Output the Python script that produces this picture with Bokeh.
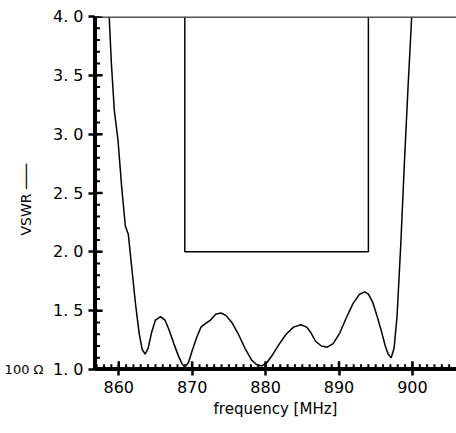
from bokeh.plotting import figure
from bokeh.models import Range1d, FixedTicker, LinearAxis
from bokeh.embed import file_html
from bokeh.resources import INLINE

# frequency [MHz] vs VSWR
freq = [858.7, 859.0, 859.4, 859.9, 860.4, 860.9, 861.3, 861.8, 862.3, 862.8, 863.2, 863.6,
        864.0, 864.5, 865.0, 865.7, 866.3, 866.9, 867.5, 868.1, 868.6, 869.0, 869.5,
        870.0, 870.6, 871.2, 871.8, 872.5, 873.2, 873.9, 874.6, 875.4, 876.3, 877.2,
        878.1, 878.8, 879.5, 880.2, 881.0, 881.9, 882.8, 883.8, 884.8, 885.6, 886.2,
        886.8, 887.6, 888.4, 889.2, 890.1, 891.0, 891.9, 892.8, 893.5, 894.0, 894.6,
        895.2, 895.8, 896.3, 896.7, 897.1, 897.5, 897.9, 898.4, 898.9, 899.4, 899.9]
vswr = [4.00, 3.60, 3.20, 2.95, 2.55, 2.22, 2.15, 1.85, 1.55, 1.30, 1.17, 1.13,
        1.18, 1.32, 1.42, 1.45, 1.42, 1.33, 1.22, 1.12, 1.05, 1.02, 1.06,
        1.16, 1.27, 1.36, 1.39, 1.42, 1.47, 1.48, 1.46, 1.40, 1.30, 1.18,
        1.08, 1.04, 1.03, 1.06, 1.13, 1.22, 1.30, 1.36, 1.38, 1.36, 1.31,
        1.24, 1.20, 1.19, 1.22, 1.31, 1.44, 1.56, 1.64, 1.66, 1.64, 1.57,
        1.45, 1.32, 1.20, 1.13, 1.10, 1.18, 1.45, 2.05, 2.75, 3.40, 4.00]

box_x = [869, 869, 894, 894]
box_y = [4.0, 2.0, 2.0, 4.0]

x_ticks = [860, 870, 880, 890, 900]
x_minor = list(range(857, 906))
y_ticks = [1.0, 1.5, 2.0, 2.5, 3.0, 3.5, 4.0]
y_minor = [round(1.0 + 0.1 * i, 1) for i in range(31)]
y_labels = {1: "1. 0", 1.5: "1. 5", 2: "2. 0", 2.5: "2. 5", 3: "3. 0", 3.5: "3. 5", 4: "4. 0"}

x0, x1 = 856.7, 906.0
y0, y1 = 1.0, 4.0

p = figure(width=456, height=420, output_backend="svg", toolbar_location=None,
           x_range=Range1d(x0, x1), y_range=Range1d(y0, y1),
           min_border_left=94, min_border_top=16, min_border_bottom=42, min_border_right=0)
p.outline_line_color = None
p.grid.grid_line_color = None

p.line(freq, vswr, color="black", line_width=1.5)
p.line(box_x, box_y, color="black", line_width=1.5)
p.line([x0, x1], [y1, y1], color="#555555", line_width=3)

# axis lines and inward ticks drawn as glyphs
p.line([x0, x0], [y0, y1], color="black", line_width=5)
p.line([x0, x1], [y0, y0], color="black", line_width=5)
p.segment(x0=x_minor, y0=[y0] * len(x_minor), x1=x_minor, y1=[y0 + 0.045] * len(x_minor),
          color="black", line_width=2)
p.segment(x0=x_ticks, y0=[y0] * len(x_ticks), x1=x_ticks, y1=[y0 + 0.07] * len(x_ticks),
          color="black", line_width=2.5)
p.segment(x0=[x0] * len(y_minor), y0=y_minor, x1=[x0 + 0.75] * len(y_minor), y1=y_minor,
          color="black", line_width=2)
p.segment(x0=[x0] * len(y_ticks), y0=y_ticks, x1=[x0 + 1.1] * len(y_ticks), y1=y_ticks,
          color="black", line_width=2.5)

for ax in (p.xaxis[0], p.yaxis[0]):
    ax.axis_line_width = 3
    ax.axis_line_color = "black"
    ax.major_tick_in = 0
    ax.major_tick_out = 6
    ax.minor_tick_line_color = None
    ax.major_tick_line_color = "black"
    ax.major_tick_line_width = 2.5
    ax.major_label_text_font = "DejaVu Sans"
    ax.major_label_text_font_size = "16px"
    ax.major_label_text_color = "black"
    ax.axis_label_text_font = "DejaVu Sans"
    ax.axis_label_text_font_style = "normal"
    ax.axis_label_text_color = "black"

p.xaxis[0].ticker = FixedTicker(ticks=x_ticks)
p.yaxis[0].ticker = FixedTicker(ticks=y_ticks)
p.yaxis.major_label_overrides = y_labels
p.xaxis.axis_label = "frequency [MHz]"
p.xaxis.axis_label_text_font_size = "15px"
p.xaxis.axis_label_standoff = 4

# outer left axis: carries the impedance note and the VSWR label
ax2 = LinearAxis(ticker=FixedTicker(ticks=[1.0]), major_label_overrides={1: "100 Ω"},
                 axis_line_color=None, major_tick_line_color=None, minor_tick_line_color=None,
                 major_label_text_font="DejaVu Sans", major_label_text_font_size="13px",
                 major_label_text_color="black", major_label_standoff=0,
                 axis_label="VSWR    \u2500\u2500\u2500", axis_label_text_font="DejaVu Sans",
                 axis_label_text_font_style="normal", axis_label_text_font_size="14px",
                 axis_label_text_color="black", axis_label_standoff=-32)
p.add_layout(ax2, "left")

open("out.html", "w").write(file_html(p, INLINE))
